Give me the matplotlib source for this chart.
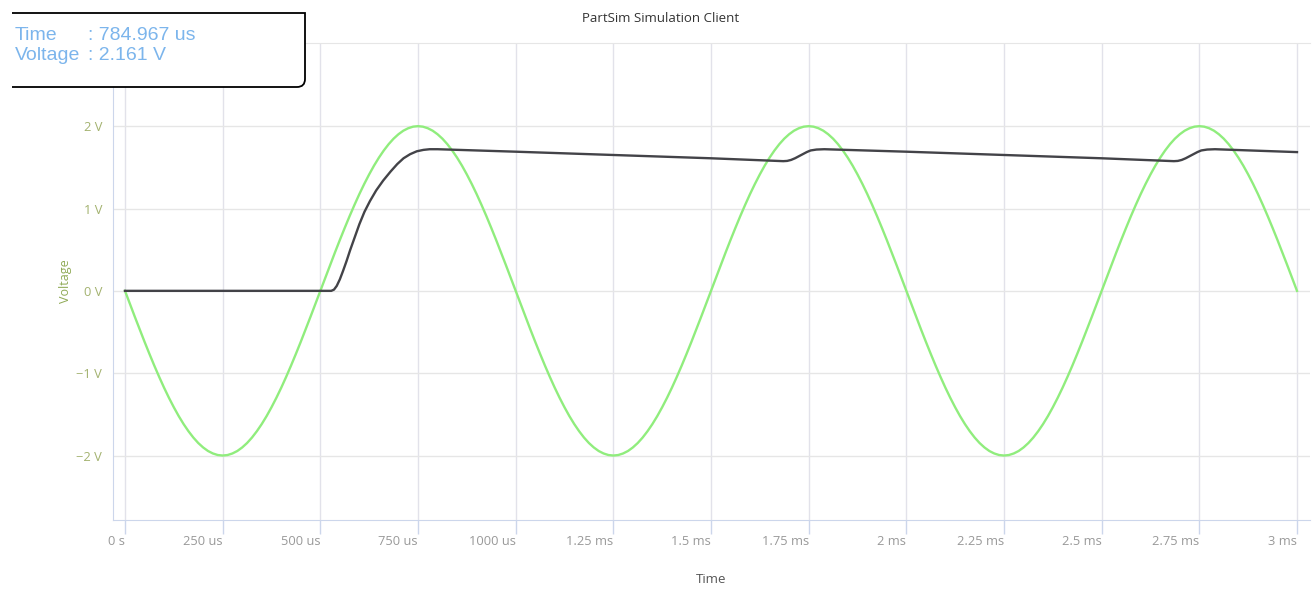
import matplotlib
matplotlib.use("Agg")
import matplotlib.pyplot as plt
from matplotlib.path import Path
from matplotlib.patches import PathPatch
from matplotlib.transforms import ScaledTranslation

# ---- data (time in ms, voltage in V) ----
# one period of the input sine, sampled every 12.5 us
sine_period = [0, -0.157, -0.313, -0.467, -0.618, -0.765, -0.908, -1.045, -1.176, -1.299,
               -1.414, -1.521, -1.618, -1.705, -1.782, -1.848, -1.902, -1.945, -1.975, -1.994,
               -2.0, -1.994, -1.975, -1.945, -1.902, -1.848, -1.782, -1.705, -1.618, -1.521,
               -1.414, -1.299, -1.176, -1.045, -0.908, -0.765, -0.618, -0.467, -0.313, -0.157,
               0, 0.157, 0.313, 0.467, 0.618, 0.765, 0.908, 1.045, 1.176, 1.299,
               1.414, 1.521, 1.618, 1.705, 1.782, 1.848, 1.902, 1.945, 1.975, 1.994,
               2.0, 1.994, 1.975, 1.945, 1.902, 1.848, 1.782, 1.705, 1.618, 1.521,
               1.414, 1.299, 1.176, 1.045, 0.908, 0.765, 0.618, 0.467, 0.313, 0.157]
input_v = sine_period + sine_period + sine_period + [0.0]
input_t = [i * 0.0125 for i in range(len(input_v))]

output_t = [0, 0.528, 0.535, 0.542, 0.55, 0.558, 0.567, 0.576, 0.588, 0.60, 0.613, 0.627,
            0.643, 0.661, 0.68, 0.697, 0.713, 0.73, 0.747, 0.764, 0.78, 0.80,
            1.0, 1.25, 1.5, 1.685, 1.695, 1.705, 1.715, 1.725, 1.735, 1.745, 1.755, 1.77, 1.79,
            2.0, 2.25, 2.5, 2.685, 2.695, 2.705, 2.715, 2.725, 2.735, 2.745, 2.755, 2.77, 2.79,
            3.0]
output_v = [0, 0, 0.015, 0.06, 0.14, 0.24, 0.36, 0.49, 0.65, 0.81, 0.96, 1.09,
            1.22, 1.34, 1.45, 1.54, 1.61, 1.66, 1.695, 1.712, 1.72, 1.72,
            1.69, 1.65, 1.61, 1.575, 1.578, 1.59, 1.61, 1.635, 1.66, 1.685, 1.705, 1.716, 1.72,
            1.69, 1.65, 1.61, 1.575, 1.578, 1.59, 1.61, 1.635, 1.66, 1.685, 1.705, 1.716, 1.72,
            1.685]

x_ticks = [0, 0.25, 0.5, 0.75, 1.0, 1.25, 1.5, 1.75, 2.0, 2.25, 2.5, 2.75, 3.0]
x_labels = ["0 s", "250 us", "500 us", "750 us", "1000 us", "1.25 ms", "1.5 ms",
            "1.75 ms", "2 ms", "2.25 ms", "2.5 ms", "2.75 ms", "3 ms"]
y_ticks = [-2, -1, 0, 1, 2]
y_labels = ["\u22122 V", "\u22121 V", "0 V", "1 V", "2 V"]

W, H = 1315, 593
fig = plt.figure(figsize=(W / 100, H / 100), dpi=100)
ax = fig.add_axes([113 / W, 1 - 520 / H, (1310 - 113) / W, (520 - 43) / H])

ax.set_xlim(-0.0307, 3.0333)
ax.set_ylim(-2.783, 3.01)

ax.plot(input_t, input_v, color="#90ed7d", lw=1.7, zorder=3)
ax.plot(output_t, output_v, color="#434348", lw=1.7, zorder=4)

ax.set_xticks(x_ticks)
ax.set_xticklabels(x_labels, ha="right", fontsize=9.3, color="#999999", family="Open Sans")
ax.set_yticks(y_ticks)
ax.set_yticklabels(y_labels, fontsize=9.3, color="#a3b26f", family="Open Sans")
for lab in ax.get_yticklabels():
    lab.set_transform(lab.get_transform() + ScaledTranslation(0, 7 / 72, fig.dpi_scale_trans))

ax.tick_params(axis="x", length=10, width=1, color="#ccd6eb", pad=1)
ax.tick_params(axis="y", length=0, pad=8)

ax.grid(axis="x", color="#e2e2ea", lw=1)
ax.grid(axis="y", color="#e6e6e6", lw=1)
ax.set_axisbelow(True)

ax.spines["right"].set_visible(False)
ax.spines["top"].set_color("#e6e6e6")
ax.spines["left"].set_color("#ccd6eb")
ax.spines["bottom"].set_color("#ccd6eb")

ax.set_ylabel("Voltage", fontsize=9, color="#8faa55", family="Open Sans", labelpad=3)
ax.set_xlabel("Time", fontsize=9.5, color="#555555", family="Open Sans", labelpad=18)
fig.text(661 / W, 1 - 19 / H, "PartSim Simulation Client", ha="center", va="center",
         fontsize=9.5, color="#333333", family="Open Sans")

# tooltip box
def fx(px):
    return px / W

def fy(py):
    return 1 - py / H

verts = [(fx(12), fy(13)), (fx(305), fy(13)), (fx(305), fy(79)),
         (fx(305), fy(87)), (fx(297), fy(87)), (fx(12), fy(87))]
codes = [Path.MOVETO, Path.LINETO, Path.LINETO, Path.CURVE3, Path.CURVE3, Path.LINETO]
box = PathPatch(Path(verts, codes), facecolor="white", edgecolor="black", lw=1.3,
                transform=fig.transFigure)
fig.add_artist(box)
tip_color = "#7cb5ec"
fig.text(fx(15), fy(35), "Time", ha="left", va="center", fontsize=14,
         color=tip_color, family="Liberation Sans")
fig.text(fx(88), fy(35), ": 784.967 us", ha="left", va="center", fontsize=14,
         color=tip_color, family="Liberation Sans")
fig.text(fx(15), fy(56), "Voltage", ha="left", va="center", fontsize=14,
         color=tip_color, family="Liberation Sans")
fig.text(fx(88), fy(56), ": 2.161 V", ha="left", va="center", fontsize=14,
         color=tip_color, family="Liberation Sans")

fig.savefig("out.png", dpi=100, facecolor="white")
